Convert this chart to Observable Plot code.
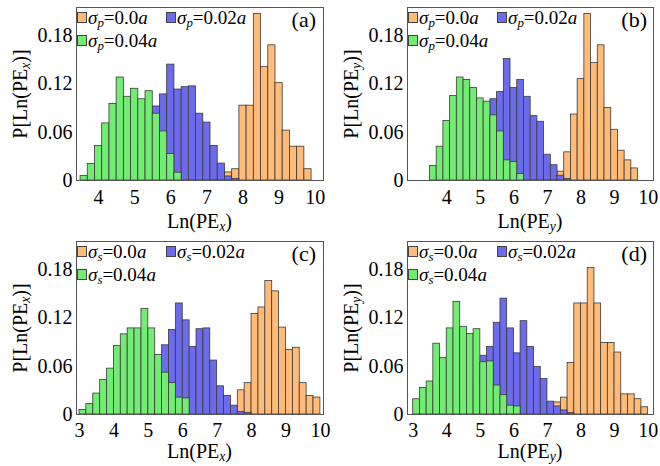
<!DOCTYPE html>
<html><head><meta charset="utf-8">
<script src="https://cdn.jsdelivr.net/npm/d3@7"></script>
<script src="https://cdn.jsdelivr.net/npm/@observablehq/plot@0.6"></script>
<style>
body{margin:0;background:#fff;}
#root{position:relative;width:660px;height:466px;overflow:hidden;font-family:"Liberation Serif","Times New Roman",Times,serif;color:#000;}
.panel{position:absolute;width:330px;height:232px;}
.panel svg{position:absolute;left:0;top:0;}
.ov{position:absolute;white-space:nowrap;line-height:1;}
.lg{font-size:19px;}
.sw{position:absolute;width:10px;height:11px;box-sizing:border-box;border:1px solid #444;}
.tag{font-size:22px;}
.xt{font-size:20px;transform:translateX(-50%);}
.yt{font-size:20px;transform:translate(-50%,-50%) rotate(-90deg);}
sub{font-size:0.68em;vertical-align:-0.2em;line-height:0;}
</style></head>
<body><div id="root"></div>
<script>
// ---- shared ----
const binWidth = 0.2;
const yTicks = [0, 0.06, 0.12, 0.18];
const yMax = 0.215;
const ORANGE = "#FFBB77", BLUE = "#6B6BEB", GREEN = "#72EC72";

// ---- panel (a): Ln(PE_x), sigma_p ----
const aXTicks = [4, 5, 6, 7, 8, 9, 10];
const aOrangeStart = 7.5;
const aOrange = [0.010, 0.014, 0.093, 0.093, 0.207, 0.141, 0.168, 0.121, 0.062, 0.042, 0.042, 0.014];
const aBlueStart = 4.7;
const aBlue = [0.005, 0.02, 0.04, 0.07, 0.092, 0.107, 0.144, 0.113, 0.116, 0.117, 0.083, 0.072, 0.043, 0.021, 0.005, 0.002];
const aGreenStart = 3.5;
const aGreen = [0.0056, 0.0205, 0.043, 0.071, 0.095, 0.128, 0.104, 0.114, 0.101, 0.111, 0.083, 0.061, 0.033, 0.0097];

// ---- panel (b): Ln(PE_y), sigma_p ----
const bXTicks = [4, 5, 6, 7, 8, 9, 10];
const bOrangeStart = 7.3;
const bOrange = [0.011, 0.035, 0.082, 0.126, 0.207, 0.146, 0.168, 0.090, 0.063, 0.037, 0.025, 0.015];
const bBlueStart = 4.7;
const bBlue = [0.01, 0.03, 0.06, 0.101, 0.110, 0.151, 0.115, 0.125, 0.104, 0.080, 0.073, 0.032, 0.019, 0.006, 0.002];
const bGreenStart = 3.5;
const bGreen = [0.018, 0.042, 0.074, 0.105, 0.128, 0.125, 0.115, 0.102, 0.098, 0.081, 0.061, 0.025, 0.023, 0.008];

// ---- panel (c): Ln(PE_x), sigma_s ----
const cXTicks = [3, 4, 5, 6, 7, 8, 9, 10];
const cOrangeStart = 7.6;
const cOrange = [0.030, 0.039, 0.125, 0.133, 0.166, 0.153, 0.108, 0.080, 0.083, 0.039, 0.023, 0.021];
const cBlueStart = 4.6;
const cBlue = [0.01, 0.02, 0.04, 0.06, 0.086, 0.105, 0.138, 0.117, 0.084, 0.106, 0.107, 0.067, 0.035, 0.023, 0.011, 0.003, 0.002];
const cGreenStart = 3.0;
const cGreen = [0.0056, 0.013, 0.026, 0.043, 0.057, 0.085, 0.0996, 0.107, 0.107, 0.131, 0.107, 0.074, 0.052, 0.039, 0.021, 0.020];

// ---- panel (d): Ln(PE_y), sigma_s ----
const dXTicks = [3, 4, 5, 6, 7, 8, 9, 10];
const dOrangeStart = 7.2;
const dOrange = [0.015, 0.021, 0.064, 0.138, 0.138, 0.182, 0.138, 0.089, 0.089, 0.077, 0.025, 0.025, 0.019, 0.009];
const dBlueStart = 4.4;
const dBlue = [0.01, 0.02, 0.04, 0.073, 0.084, 0.114, 0.144, 0.107, 0.076, 0.116, 0.084, 0.059, 0.044, 0.016, 0.010, 0.005, 0.002];
const dGreenStart = 3.0;
const dGreen = [0.019, 0.033, 0.041, 0.088, 0.070, 0.107, 0.140, 0.109, 0.100, 0.106, 0.065, 0.066, 0.036, 0.024, 0.011, 0.010];

const panels = [
  {id:"a", left:0, top:0, xDomain:[3.388, 10.23], mr:7, ticks:aXTicks, sym:"p", ax:"x",
   series:[[aOrangeStart,aOrange,ORANGE],[aBlueStart,aBlue,BLUE],[aGreenStart,aGreen,GREEN]]},
  {id:"b", left:331, top:0, xDomain:[2.83, 10.16], mr:8, ticks:bXTicks, sym:"p", ax:"y",
   series:[[bOrangeStart,bOrange,ORANGE],[bBlueStart,bBlue,BLUE],[bGreenStart,bGreen,GREEN]]},
  {id:"c", left:0, top:234, xDomain:[2.913, 10.09], mr:7, ticks:cXTicks, sym:"s", ax:"x",
   series:[[cOrangeStart,cOrange,ORANGE],[cBlueStart,cBlue,BLUE],[cGreenStart,cGreen,GREEN]]},
  {id:"d", left:331, top:234, xDomain:[2.83, 10.16], mr:8, ticks:dXTicks, sym:"s", ax:"y",
   series:[[dOrangeStart,dOrange,ORANGE],[dBlueStart,dBlue,BLUE],[dGreenStart,dGreen,GREEN]]}
];

function rows(start, values) {
  return values.map((v, i) => ({
    x1: +(start + i * binWidth).toFixed(3),
    x2: +(start + (i + 1) * binWidth).toFixed(3),
    y0: 0, y: v
  }));
}

const root = document.getElementById("root");
for (const p of panels) {
  const bottomRow = p.top > 0;
  const div = document.createElement("div");
  div.className = "panel";
  div.style.left = p.left + "px";
  div.style.top = p.top + "px";
  const marks = p.series.map(([start, vals, col]) =>
    Plot.rect(rows(start, vals), {x1:"x1", x2:"x2", y1:"y0", y2:"y", fill:col, stroke:"#3a3a3a", strokeWidth:0.8})
  );
  marks.push(Plot.frame({stroke:"#555", strokeWidth:1}));
  const svg = Plot.plot({
    width:330, height:232,
    marginLeft:76, marginRight:p.mr, marginTop:7, marginBottom:52,
    style:{fontFamily:'"Liberation Serif", "Times New Roman", serif', fontSize:"20px", color:"#000", background:"transparent", overflow:"visible"},
    x:{domain:p.xDomain, ticks:p.ticks, tickSize:0, tickPadding:bottomRow ? 8 : 9, label:null, tickFormat:d => String(d)},
    y:{domain:[0, yMax], ticks:yTicks, tickSize:0, tickPadding:4, label:null, tickFormat:d => d === 0 ? "0" : d.toFixed(2)},
    marks
  });
  div.appendChild(svg);
  const s = p.sym;
  div.insertAdjacentHTML("beforeend", `
    <div class="sw" style="left:77px;top:12px;background:${ORANGE}"></div>
    <div class="ov lg" style="left:88px;top:8px"><i>σ</i><sub><i>${s}</i></sub>=0.0<i>a</i></div>
    <div class="sw" style="left:166px;top:12px;background:${BLUE}"></div>
    <div class="ov lg" style="left:177px;top:8px"><i>σ</i><sub><i>${s}</i></sub>=0.02<i>a</i></div>
    <div class="sw" style="left:77px;top:35px;background:${GREEN}"></div>
    <div class="ov lg" style="left:88px;top:31px"><i>σ</i><sub><i>${s}</i></sub>=0.04<i>a</i></div>
    <div class="ov tag" style="right:14px;top:9px">(${p.id})</div>
    <div class="ov xt" style="left:${76 + (330 - 76 - p.mr) / 2}px;top:${bottomRow ? 207 : 211}px">Ln(PE<sub><i>${p.ax}</i></sub>)</div>
    <div class="ov yt" style="left:20px;top:94px">P[Ln(PE<sub><i>${p.ax}</i></sub>)]</div>
  `);
  root.appendChild(div);
}
</script>
</body></html>
